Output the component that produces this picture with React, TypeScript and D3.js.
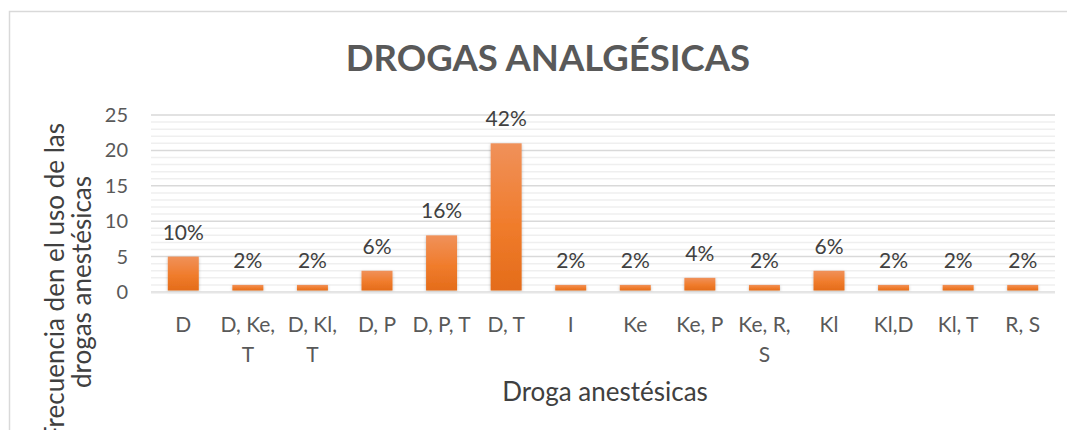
import React from "react";
import * as d3 from "d3";

const categories: string[][] = [
  ["D"], ["D, Ke,", "T"], ["D, Kl,", "T"], ["D, P"], ["D, P, T"], ["D, T"],
  ["I"], ["Ke"], ["Ke, P"], ["Ke, R,", "S"], ["Kl"], ["Kl,D"], ["Kl, T"], ["R, S"],
];
const values: number[] = [5, 1, 1, 3, 8, 21, 1, 1, 2, 1, 3, 1, 1, 1];
const percentLabels: string[] = ["10%", "2%", "2%", "6%", "16%", "42%", "2%", "2%", "4%", "2%", "6%", "2%", "2%", "2%"];
const yTicks: number[] = [0, 5, 10, 15, 20, 25];
const minorTicks: number[] = d3.range(0, 26, 1);
const title = "DROGAS ANALGÉSICAS";
const xTitle = "Droga anestésicas";
const yTitleLines = ["Frecuencia den el uso de  las", "drogas anestésicas"];

export default function App() {
  const W = 1067, H = 430;
  const left = 151, right = 1055, top = 115, bottom = 292;
  const font = "Lato, 'Open Sans', sans-serif";
  const keys = categories.map((_, i) => String(i));
  const x = d3.scaleBand<string>().domain(keys).range([left, right]).paddingInner(0.52).paddingOuter(0.26);
  const y = d3.scaleLinear().domain([0, 25]).range([bottom, top]);

  return (
    <svg width={W} height={H} style={{ position: "absolute", left: 0, top: 0 }}>
      <defs>
        <linearGradient id="barGrad" x1="0" y1="0" x2="0" y2="1">
          <stop offset="0%" stopColor="#f0915a" />
          <stop offset="55%" stopColor="#f07c2c" />
          <stop offset="100%" stopColor="#e46c1a" />
        </linearGradient>
        <filter id="shadow" x="-30%" y="-30%" width="160%" height="160%">
          <feDropShadow dx="0" dy="1" stdDeviation="1.5" floodColor="#000" floodOpacity="0.25" />
        </filter>
      </defs>
      <rect x={0} y={0} width={W} height={H} fill="#fff" />
      <rect x={9.5} y={11.5} width={1100} height={500} fill="#fff" stroke="#d9d9d9" strokeWidth={1.5} />
      <text x={548} y={71} textAnchor="middle" fontFamily={font} fontWeight={700} fontSize={36.5} fill="#595959">{title}</text>

      {minorTicks.filter((t) => t % 5 !== 0).map((t) => (
        <line key={"m" + t} x1={left} x2={right} y1={y(t)} y2={y(t)} stroke="#efefef" strokeWidth={1.5} />
      ))}
      {yTicks.map((t) => (
        <line key={"g" + t} x1={left} x2={right} y1={y(t)} y2={y(t)} stroke="#d9d9d9" strokeWidth={1.5} />
      ))}
      {yTicks.map((t) => (
        <text key={"t" + t} x={128} y={y(t)} dy="0.35em" textAnchor="end" fontFamily={font} fontSize={20} fill="#595959">{t}</text>
      ))}

      {values.map((v, i) => (
        <rect key={"b" + i} x={x(String(i))} y={y(v)} width={x.bandwidth()} height={y(0) - y(v) - 1.5}
          fill="url(#barGrad)" filter="url(#shadow)" />
      ))}
      <line x1={left} x2={right} y1={bottom + 0.5} y2={bottom + 0.5} stroke="#e6e6e6" strokeWidth={2} />

      {values.map((v, i) => (
        <text key={"p" + i} x={(x(String(i)) as number) + x.bandwidth() / 2} y={y(v) - 17}
          textAnchor="middle" fontFamily={font} fontSize={21} fill="#404040">{percentLabels[i]}</text>
      ))}

      {categories.map((lines, i) => (
        <text key={"c" + i} x={(x(String(i)) as number) + x.bandwidth() / 2} y={332}
          textAnchor="middle" fontFamily={font} fontSize={21} fill="#595959">
          {lines.map((l, j) => (
            <tspan key={j} x={(x(String(i)) as number) + x.bandwidth() / 2} dy={j === 0 ? 0 : 30}>{l}</tspan>
          ))}
        </text>
      ))}

      <text x={605} y={401} textAnchor="middle" fontFamily={font} fontSize={26} fill="#404040">{xTitle}</text>
      <g transform="translate(64, 282) rotate(-90)">
        {yTitleLines.map((l, j) => (
          <text key={j} x={0} y={j * 27} textAnchor="middle" fontFamily={font} fontSize={26} fill="#404040">{l}</text>
        ))}
      </g>
    </svg>
  );
}
